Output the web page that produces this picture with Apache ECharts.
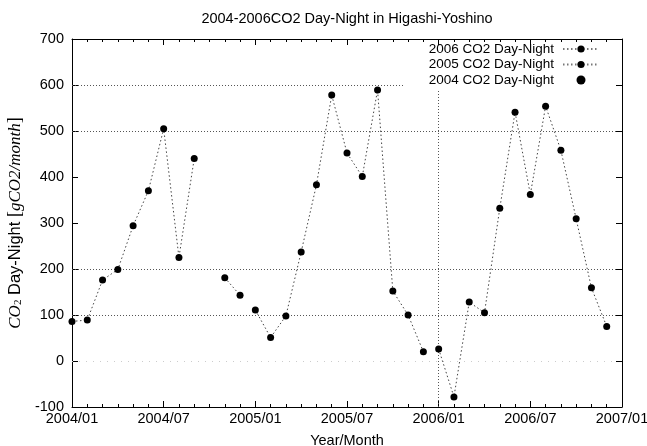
<!DOCTYPE html>
<html>
<head>
<meta charset="utf-8">
<script src="https://cdn.jsdelivr.net/npm/echarts@6/dist/echarts.min.js"></script>
<style>
  html, body { margin: 0; padding: 0; background: #fff; }
  #chart { width: 647px; height: 446px; }
</style>
</head>
<body>
<div id="chart"></div>
<script>
// Monthly day-night CO2 values, one array per year (Jan..Dec); null = no data
const co2_2004 = [86, 89, 176, 199, 294, 370, 505, 225, 440, null, 181, 143];
const co2_2005 = [111, 51, 98, 237, 383, 578, 452, 401, 589, 152, 100, 20];
const co2_2006 = [26, -78, 128, 105, 332, 541, 362, 554, 458, 309, 159, 75];

const seriesNames = ['2006 CO2 Day-Night', '2005 CO2 Day-Night', '2004 CO2 Day-Night'];
const tickLabels = ['2004/01', '2004/07', '2005/01', '2005/07', '2006/01', '2006/07', '2007/01'];
const gridValuesY = [600, 500, 200, 100];
const faintGridY = [0];
const gridMonthsX = [24];

const FONT = 'Liberation Sans, Arial, Helvetica, sans-serif';
const SERIF = 'Liberation Serif, DejaVu Serif, serif';
const FS = 14.5;

function toPoints(values, yearIndex) {
  return values.map((v, i) => [yearIndex * 12 + i, v === null ? '-' : v]);
}

const lineStyle = { color: '#444', width: 1, type: [1.5, 2.5] };
const gridLineStyle = { color: '#555', width: 1, type: [1, 2] };

function yearSeries(name, values, yearIndex, extra) {
  return Object.assign({
    name: name,
    type: 'line',
    data: toPoints(values, yearIndex),
    symbol: 'circle',
    symbolSize: 7,
    itemStyle: { color: '#000' },
    lineStyle: lineStyle,
    connectNulls: false,
    z: 3
  }, extra || {});
}

const chart = echarts.init(document.getElementById('chart'), null, { renderer: 'canvas' });

const option = {
  animation: false,
  backgroundColor: '#fff',
  graphic: [{
    type: 'text',
    x: 347,
    y: 19,
    style: {
      text: '2004-2006CO2 Day-Night in Higashi-Yoshino',
      font: FS + 'px ' + FONT,
      fill: '#000',
      textAlign: 'center',
      textVerticalAlign: 'middle'
    }
  }],
  grid: { left: 72, top: 39, width: 550, height: 368, containLabel: false, outerBoundsMode: 'none' },
  legend: {
    orient: 'vertical',
    right: 26,
    top: 39,
    align: 'right',
    padding: [3, 21, 2, 25],
    backgroundColor: '#fff',
    itemWidth: 36,
    itemHeight: 9,
    itemGap: 1.5,
    textStyle: { fontFamily: FONT, fontSize: 13.5, color: '#000', padding: [0, 4, 0, 0] },
    lineStyle: { color: '#777' },
    data: [
      { name: seriesNames[0] },
      { name: seriesNames[1] },
      { name: seriesNames[2], icon: 'circle' }
    ],
    selectedMode: false
  },
  xAxis: [{
    type: 'value',
    min: 0,
    max: 36,
    interval: 6,
    name: 'Year/Month',
    nameLocation: 'middle',
    nameGap: 26,
    nameTextStyle: { fontFamily: FONT, fontSize: FS, color: '#000' },
    axisLine: { show: true, onZero: false, lineStyle: { color: '#000', width: 1 } },
    axisTick: { show: true, inside: true, length: 6, lineStyle: { color: '#000' } },
    minorTick: { show: true, splitNumber: 6, length: 3, lineStyle: { color: '#000' } },
    axisLabel: {
      fontFamily: FONT, fontSize: FS, color: '#000', margin: 4,
      formatter: v => tickLabels[Math.round(v / 6)]
    },
    splitLine: { show: false }
  }, {
    type: 'value',
    position: 'top',
    min: 0,
    max: 36,
    interval: 6,
    z: 10,
    axisLine: { show: true, onZero: false, lineStyle: { color: '#000', width: 1 } },
    axisTick: { show: true, inside: true, length: 6, lineStyle: { color: '#000' } },
    minorTick: { show: true, splitNumber: 6, length: 3, lineStyle: { color: '#000' } },
    axisLabel: { show: false },
    splitLine: { show: false }
  }],
  yAxis: [{
    type: 'value',
    min: -100,
    max: 700,
    interval: 100,
    name: '{it|CO}{sub|2}{sans| Day-Night }{br|[}{it|gCO2/month}{br|]}',
    nameLocation: 'middle',
    nameRotate: 90,
    nameGap: 47,
    nameTextStyle: {
      fontFamily: FONT, fontSize: 17, color: '#000',
      rich: {
        it: { fontFamily: SERIF, fontStyle: 'italic', fontSize: 17, color: '#000' },
        sub: { fontFamily: SERIF, fontSize: 11, color: '#000', verticalAlign: 'bottom' },
        sans: { fontFamily: FONT, fontSize: 16.5, color: '#000' },
        br: { fontFamily: SERIF, fontSize: 18, color: '#000' }
      }
    },
    axisLine: { show: true, onZero: false, lineStyle: { color: '#000', width: 1 } },
    axisTick: { show: true, inside: true, length: 6, lineStyle: { color: '#000' } },
    axisLabel: { fontFamily: FONT, fontSize: FS, color: '#000', margin: 8 },
    splitLine: { show: false }
  }, {
    type: 'value',
    position: 'right',
    min: -100,
    max: 700,
    interval: 100,
    z: 10,
    axisLine: { show: true, onZero: false, lineStyle: { color: '#000', width: 1 } },
    axisTick: { show: true, inside: true, length: 6, lineStyle: { color: '#000' } },
    axisLabel: { show: false },
    splitLine: { show: false }
  }],
  series: [
    yearSeries(seriesNames[0], co2_2006, 2, {
      markLine: {
        silent: true,
        symbol: ['none', 'none'],
        label: { show: false },
        lineStyle: gridLineStyle,
        z: 1,
        data: gridValuesY.map(v => ({ yAxis: v }))
          .concat(faintGridY.map(v => ({ yAxis: v, lineStyle: { color: '#ccc', type: [1, 6] } })))
          .concat(gridMonthsX.map(m => ({ xAxis: m })))
      }
    }),
    yearSeries(seriesNames[1], co2_2005, 1),
    yearSeries(seriesNames[2], co2_2004, 0)
  ]
};

chart.setOption(option);
</script>
</body>
</html>
